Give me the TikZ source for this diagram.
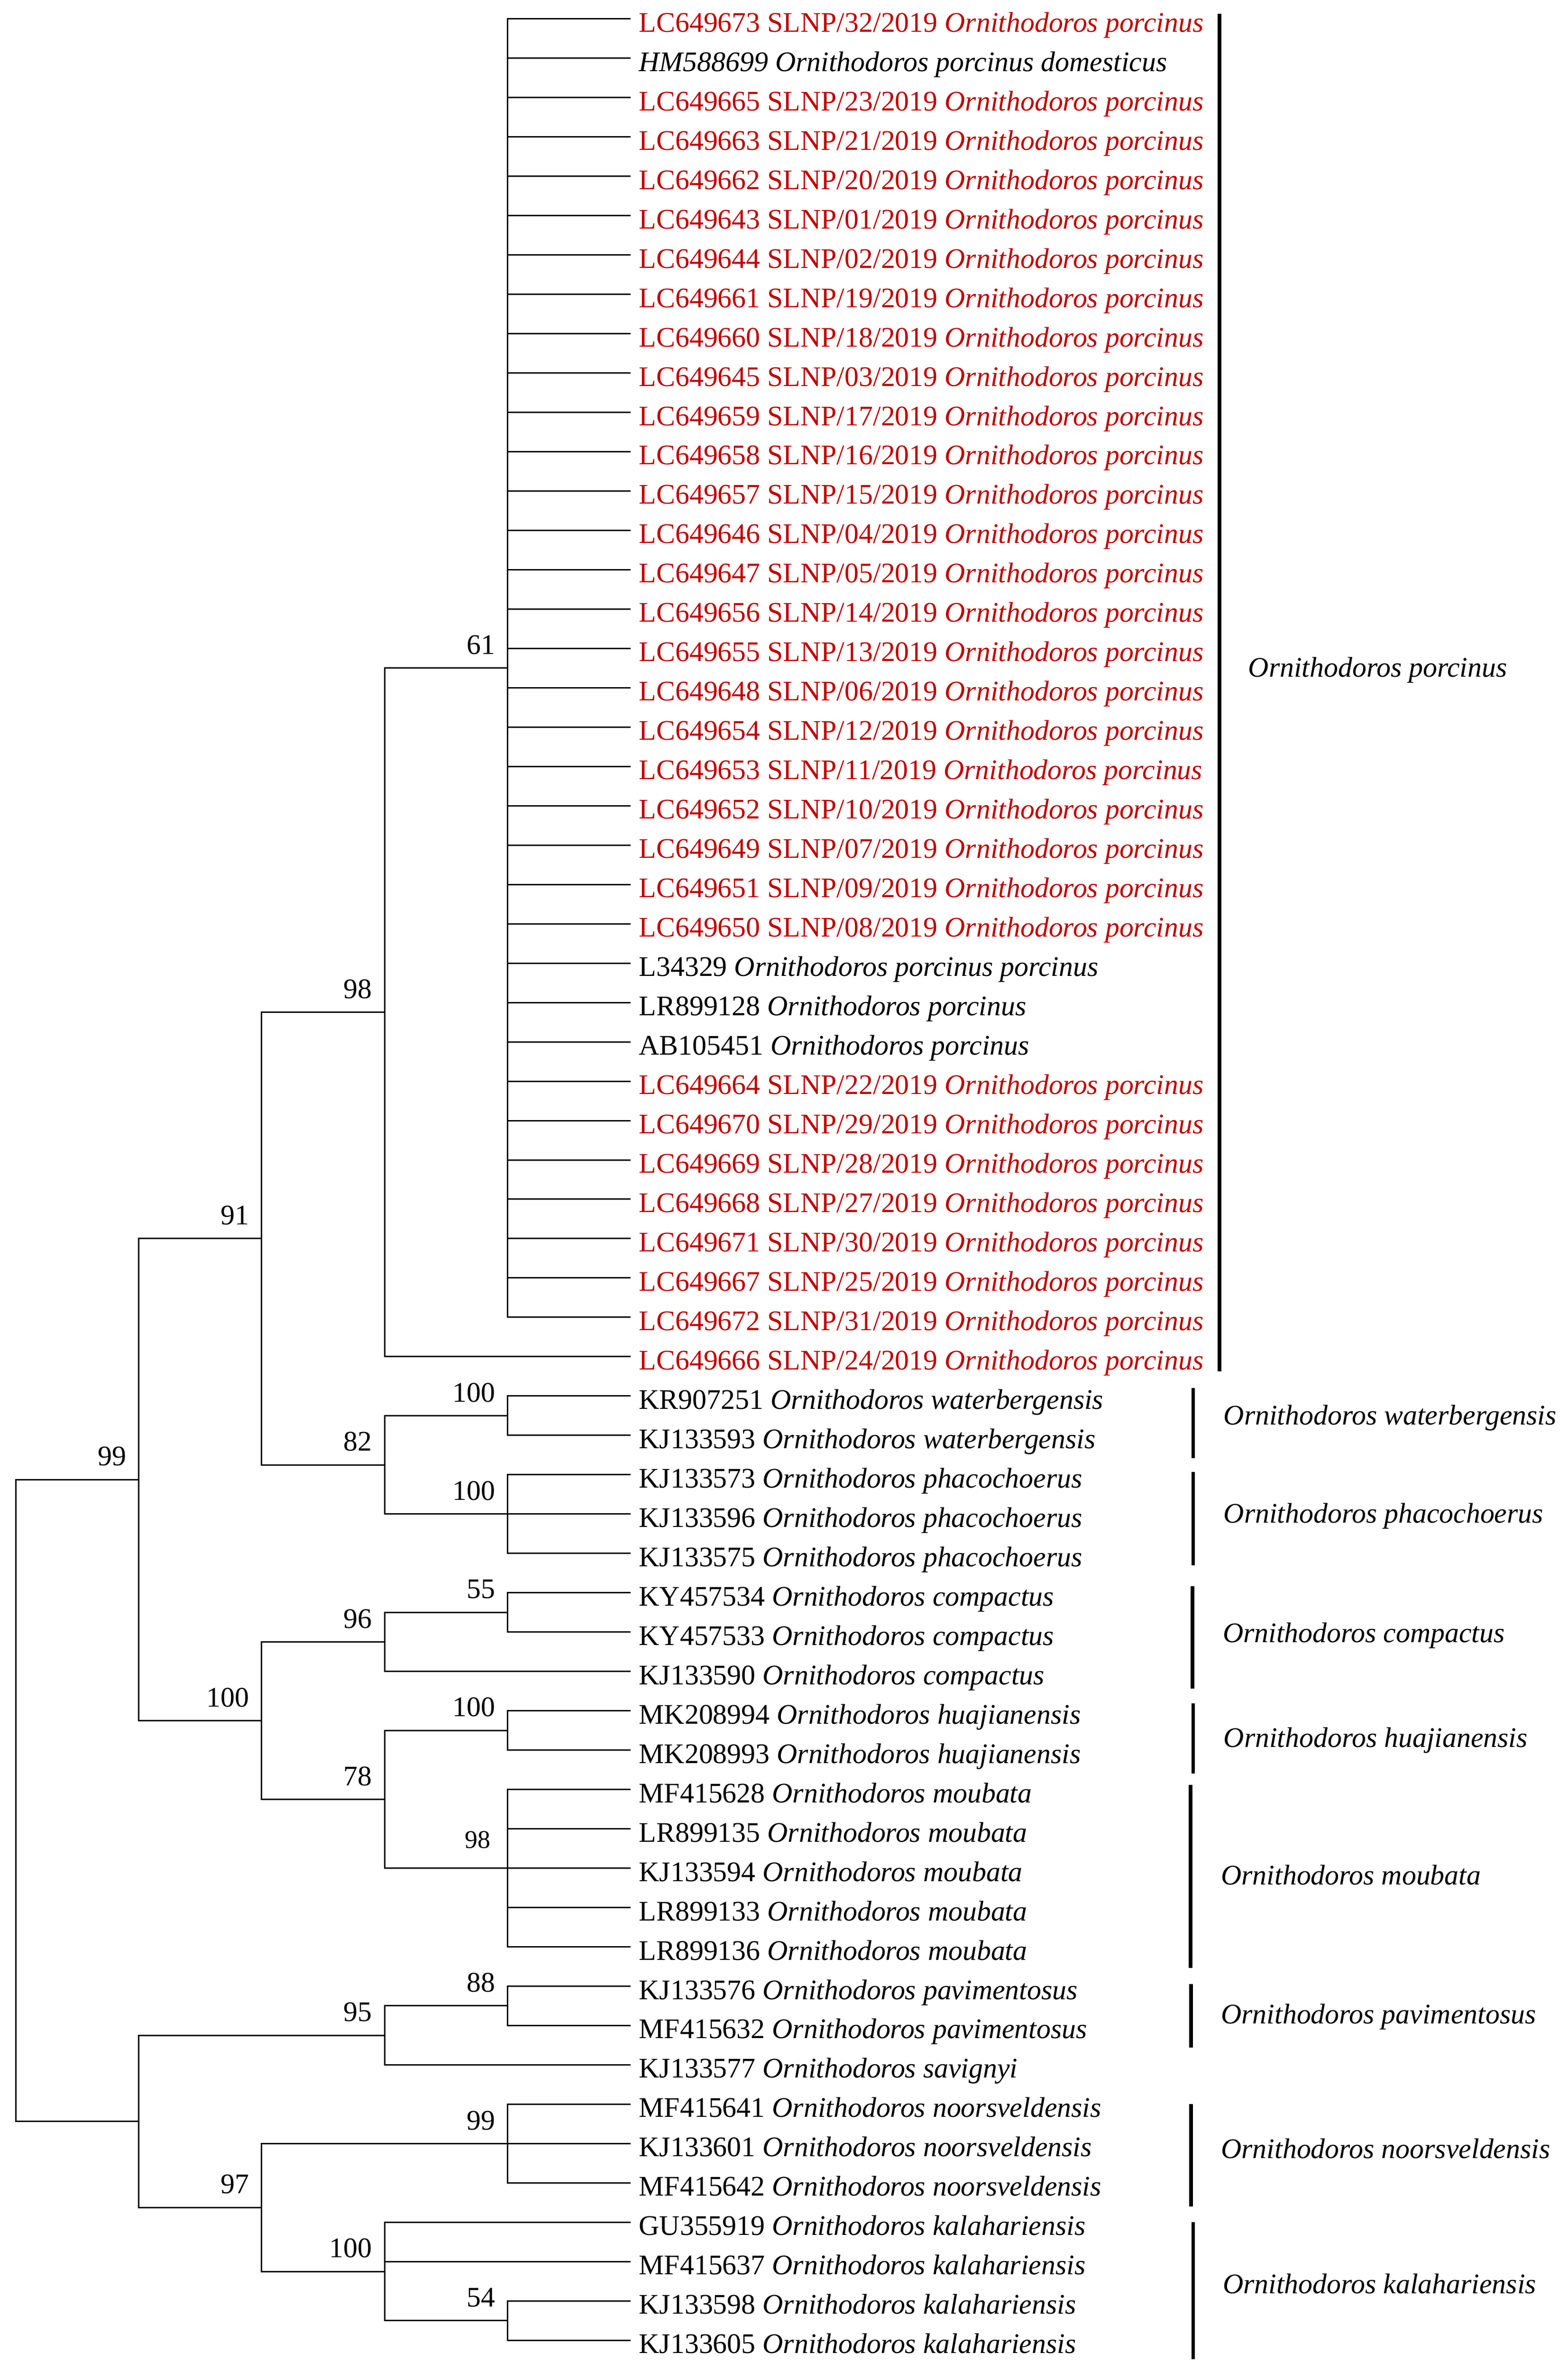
\documentclass[tikz,border=0pt]{standalone}
\usepackage{fontspec}
\setmainfont{Liberation Serif}
\definecolor{isored}{RGB}{192,0,0}
\newcommand{\orn}[1]{\textit{Ornithodoros #1}}

\begin{document}
\begin{tikzpicture}[x=0.15pt, y=-13.8675pt, line width=0.5pt,
    font=\fontsize{10}{12}\selectfont,
    taxon/.style={anchor=base west, inner sep=0pt, yshift=-4.6pt},
    bs/.style={anchor=base east, inner sep=0pt, xshift=-4.2pt, yshift=4.9pt},
    clade/.style={anchor=base west, inner sep=0pt, yshift=-3.2pt, font=\fontsize{10}{12}\selectfont\itshape},
    cladebar/.style={line width=1.3pt}]
    \useasboundingbox (0,-0.479) rectangle (3684,59.781);

    % leaf tips, one row per sequence
    \foreach \i in {0,...,59} \coordinate (t\i) at (1482,\i);

    % internal nodes (x = depth, y = mid of first and last child)
    \coordinate (nPor)    at (1193,16.5);
    \coordinate (nPorAll) at (904,25.25);
    \coordinate (nWat)    at (1193,35.5);
    \coordinate (nPha)    at (1193,38);
    \coordinate (nWP)     at (904,36.75);
    \coordinate (nA)      at (615,31);
    \coordinate (nCom55)  at (1193,40.5);
    \coordinate (nCom)    at (904,41.25);
    \coordinate (nHua)    at (1193,43.5);
    \coordinate (nMou)    at (1193,47);
    \coordinate (nHM)     at (904,45.25);
    \coordinate (nCHM)    at (615,43.25);
    \coordinate (nUpper)  at (326,37.125);
    \coordinate (nPav)    at (1193,50.5);
    \coordinate (nPS)     at (904,51.25);
    \coordinate (nNoo)    at (1193,54);
    \coordinate (nKal54)  at (1193,58.5);
    \coordinate (nKal)    at (904,57.25);
    \coordinate (nNK)     at (615,55.625);
    \coordinate (nLower)  at (326,53.4375);
    \coordinate (nRoot)   at (37,45.28125);

    % branches
    \foreach \i in {0,...,33} \draw (nPor) |- (t\i);
    \draw (nPorAll) |- (nPor);  \draw (nPorAll) |- (t34);
    \draw (nWat) |- (t35);      \draw (nWat) |- (t36);
    \foreach \i in {37,38,39} \draw (nPha) |- (t\i);
    \draw (nWP) |- (nWat);      \draw (nWP) |- (nPha);
    \draw (nA) |- (nPorAll);    \draw (nA) |- (nWP);
    \draw (nCom55) |- (t40);    \draw (nCom55) |- (t41);
    \draw (nCom) |- (nCom55);   \draw (nCom) |- (t42);
    \draw (nHua) |- (t43);      \draw (nHua) |- (t44);
    \foreach \i in {45,...,49} \draw (nMou) |- (t\i);
    \draw (nHM) |- (nHua);      \draw (nHM) |- (nMou);
    \draw (nCHM) |- (nCom);     \draw (nCHM) |- (nHM);
    \draw (nUpper) |- (nA);     \draw (nUpper) |- (nCHM);
    \draw (nPav) |- (t50);      \draw (nPav) |- (t51);
    \draw (nPS) |- (nPav);      \draw (nPS) |- (t52);
    \foreach \i in {53,54,55} \draw (nNoo) |- (t\i);
    \draw (nKal54) |- (t58);    \draw (nKal54) |- (t59);
    \draw (nKal) |- (t56);      \draw (nKal) |- (t57);  \draw (nKal) |- (nKal54);
    \draw (nNK) |- (nNoo);      \draw (nNK) |- (nKal);
    \draw (nLower) |- (nPS);    \draw (nLower) |- (nNK);
    \draw (nRoot) |- (nUpper);  \draw (nRoot) |- (nLower);

    % bootstrap values
    \node[bs] (bPor)    at (nPor) {61};
    \node[bs] (bPorAll) at (nPorAll) {98};
    \node[bs] (bA)      at (nA) {91};
    \node[bs] (bWat)    at (nWat) {100};
    \node[bs] (bWP)     at (nWP) {82};
    \node[bs] (bPha)    at (nPha) {100};
    \node[bs] (bUpper)  at (nUpper) {99};
    \node[bs] (bCom55)  at (nCom55) {55};
    \node[bs] (bCom)    at (nCom) {96};
    \node[bs] (bCHM)    at (nCHM) {100};
    \node[bs] (bHua)    at (nHua) {100};
    \node[bs] (bHM)     at (nHM) {78};
    \node[bs, font=\fontsize{9}{10}\selectfont, xshift=-1.6pt, yshift=2.2pt] (bMou) at (nMou) {98};
    \node[bs] (bPav)    at (nPav) {88};
    \node[bs] (bPS)     at (nPS) {95};
    \node[bs] (bNoo)    at (nNoo) {99};
    \node[bs] (bNK)     at (nNK) {97};
    \node[bs] (bKal)    at (nKal) {100};
    \node[bs] (bKal54)  at (nKal54) {54};

    % sequence names
    \node[taxon, text=isored] (s0)  at (1500,0)  {LC649673 SLNP/32/2019 \orn{porcinus}};
    \node[taxon] (s1)  at (1500,1)  {\textit{HM588699 Ornithodoros porcinus domesticus}};
    \node[taxon, text=isored] (s2)  at (1500,2)  {LC649665 SLNP/23/2019 \orn{porcinus}};
    \node[taxon, text=isored] (s3)  at (1500,3)  {LC649663 SLNP/21/2019 \orn{porcinus}};
    \node[taxon, text=isored] (s4)  at (1500,4)  {LC649662 SLNP/20/2019 \orn{porcinus}};
    \node[taxon, text=isored] (s5)  at (1500,5)  {LC649643 SLNP/01/2019 \orn{porcinus}};
    \node[taxon, text=isored] (s6)  at (1500,6)  {LC649644 SLNP/02/2019 \orn{porcinus}};
    \node[taxon, text=isored] (s7)  at (1500,7)  {LC649661 SLNP/19/2019 \orn{porcinus}};
    \node[taxon, text=isored] (s8)  at (1500,8)  {LC649660 SLNP/18/2019 \orn{porcinus}};
    \node[taxon, text=isored] (s9)  at (1500,9)  {LC649645 SLNP/03/2019 \orn{porcinus}};
    \node[taxon, text=isored] (s10) at (1500,10) {LC649659 SLNP/17/2019 \orn{porcinus}};
    \node[taxon, text=isored] (s11) at (1500,11) {LC649658 SLNP/16/2019 \orn{porcinus}};
    \node[taxon, text=isored] (s12) at (1500,12) {LC649657 SLNP/15/2019 \orn{porcinus}};
    \node[taxon, text=isored] (s13) at (1500,13) {LC649646 SLNP/04/2019 \orn{porcinus}};
    \node[taxon, text=isored] (s14) at (1500,14) {LC649647 SLNP/05/2019 \orn{porcinus}};
    \node[taxon, text=isored] (s15) at (1500,15) {LC649656 SLNP/14/2019 \orn{porcinus}};
    \node[taxon, text=isored] (s16) at (1500,16) {LC649655 SLNP/13/2019 \orn{porcinus}};
    \node[taxon, text=isored] (s17) at (1500,17) {LC649648 SLNP/06/2019 \orn{porcinus}};
    \node[taxon, text=isored] (s18) at (1500,18) {LC649654 SLNP/12/2019 \orn{porcinus}};
    \node[taxon, text=isored] (s19) at (1500,19) {LC649653 SLNP/11/2019 \orn{porcinus}};
    \node[taxon, text=isored] (s20) at (1500,20) {LC649652 SLNP/10/2019 \orn{porcinus}};
    \node[taxon, text=isored] (s21) at (1500,21) {LC649649 SLNP/07/2019 \orn{porcinus}};
    \node[taxon, text=isored] (s22) at (1500,22) {LC649651 SLNP/09/2019 \orn{porcinus}};
    \node[taxon, text=isored] (s23) at (1500,23) {LC649650 SLNP/08/2019 \orn{porcinus}};
    \node[taxon] (s24) at (1500,24) {L34329 \orn{porcinus porcinus}};
    \node[taxon] (s25) at (1500,25) {LR899128 \orn{porcinus}};
    \node[taxon] (s26) at (1500,26) {AB105451 \orn{porcinus}};
    \node[taxon, text=isored] (s27) at (1500,27) {LC649664 SLNP/22/2019 \orn{porcinus}};
    \node[taxon, text=isored] (s28) at (1500,28) {LC649670 SLNP/29/2019 \orn{porcinus}};
    \node[taxon, text=isored] (s29) at (1500,29) {LC649669 SLNP/28/2019 \orn{porcinus}};
    \node[taxon, text=isored] (s30) at (1500,30) {LC649668 SLNP/27/2019 \orn{porcinus}};
    \node[taxon, text=isored] (s31) at (1500,31) {LC649671 SLNP/30/2019 \orn{porcinus}};
    \node[taxon, text=isored] (s32) at (1500,32) {LC649667 SLNP/25/2019 \orn{porcinus}};
    \node[taxon, text=isored] (s33) at (1500,33) {LC649672 SLNP/31/2019 \orn{porcinus}};
    \node[taxon, text=isored] (s34) at (1500,34) {LC649666 SLNP/24/2019 \orn{porcinus}};
    \node[taxon] (s35) at (1500,35) {KR907251 \orn{waterbergensis}};
    \node[taxon] (s36) at (1500,36) {KJ133593 \orn{waterbergensis}};
    \node[taxon] (s37) at (1500,37) {KJ133573 \orn{phacochoerus}};
    \node[taxon] (s38) at (1500,38) {KJ133596 \orn{phacochoerus}};
    \node[taxon] (s39) at (1500,39) {KJ133575 \orn{phacochoerus}};
    \node[taxon] (s40) at (1500,40) {KY457534 \orn{compactus}};
    \node[taxon] (s41) at (1500,41) {KY457533 \orn{compactus}};
    \node[taxon] (s42) at (1500,42) {KJ133590 \orn{compactus}};
    \node[taxon] (s43) at (1500,43) {MK208994 \orn{huajianensis}};
    \node[taxon] (s44) at (1500,44) {MK208993 \orn{huajianensis}};
    \node[taxon] (s45) at (1500,45) {MF415628 \orn{moubata}};
    \node[taxon] (s46) at (1500,46) {LR899135 \orn{moubata}};
    \node[taxon] (s47) at (1500,47) {KJ133594 \orn{moubata}};
    \node[taxon] (s48) at (1500,48) {LR899133 \orn{moubata}};
    \node[taxon] (s49) at (1500,49) {LR899136 \orn{moubata}};
    \node[taxon] (s50) at (1500,50) {KJ133576 \orn{pavimentosus}};
    \node[taxon] (s51) at (1500,51) {MF415632 \orn{pavimentosus}};
    \node[taxon] (s52) at (1500,52) {KJ133577 \orn{savignyi}};
    \node[taxon] (s53) at (1500,53) {MF415641 \orn{noorsveldensis}};
    \node[taxon] (s54) at (1500,54) {KJ133601 \orn{noorsveldensis}};
    \node[taxon] (s55) at (1500,55) {MF415642 \orn{noorsveldensis}};
    \node[taxon] (s56) at (1500,56) {GU355919 \orn{kalahariensis}};
    \node[taxon] (s57) at (1500,57) {MF415637 \orn{kalahariensis}};
    \node[taxon] (s58) at (1500,58) {KJ133598 \orn{kalahariensis}};
    \node[taxon] (s59) at (1500,59) {KJ133605 \orn{kalahariensis}};

    % species bars and names
    \coordinate (porTop) at (2866,-0.13);  \coordinate (porBot) at (2866,34.38);
    \coordinate (watTop) at (2804,34.8);   \coordinate (watBot) at (2804,36.58);
    \coordinate (phaTop) at (2804,36.93);  \coordinate (phaBot) at (2804,39.31);
    \coordinate (comTop) at (2802,39.83);  \coordinate (comBot) at (2802,42.44);
    \coordinate (huaTop) at (2804,42.81);  \coordinate (huaBot) at (2804,44.6);
    \coordinate (mouTop) at (2798,44.88);  \coordinate (mouBot) at (2798,49.54);
    \coordinate (pavTop) at (2799,49.94);  \coordinate (pavBot) at (2799,51.56);
    \coordinate (nooTop) at (2799,53.0);   \coordinate (nooBot) at (2799,55.6);
    \coordinate (kalTop) at (2804,56.0);   \coordinate (kalBot) at (2804,59.48);
    \draw[cladebar] (porTop) -- (porBot);
    \draw[cladebar] (watTop) -- (watBot);
    \draw[cladebar] (phaTop) -- (phaBot);
    \draw[cladebar] (comTop) -- (comBot);
    \draw[cladebar] (huaTop) -- (huaBot);
    \draw[cladebar] (mouTop) -- (mouBot);
    \draw[cladebar] (pavTop) -- (pavBot);
    \draw[cladebar] (nooTop) -- (nooBot);
    \draw[cladebar] (kalTop) -- (kalBot);
    \node[clade] (cPor) at (2932,16.5)  {Ornithodoros porcinus};
    \node[clade] (cWat) at (2874,35.5)  {Ornithodoros waterbergensis};
    \node[clade] (cPha) at (2874,38)    {Ornithodoros phacochoerus};
    \node[clade] (cCom) at (2872,41.03) {Ornithodoros compactus};
    \node[clade] (cHua) at (2874,43.69) {Ornithodoros huajianensis};
    \node[clade] (cMou) at (2868,47.19) {Ornithodoros moubata};
    \node[clade] (cPav) at (2868,50.72) {Ornithodoros pavimentosus};
    \node[clade] (cNoo) at (2868,54.15) {Ornithodoros noorsveldensis};
    \node[clade] (cKal) at (2872,57.58) {Ornithodoros kalahariensis};
\end{tikzpicture}
\end{document}
